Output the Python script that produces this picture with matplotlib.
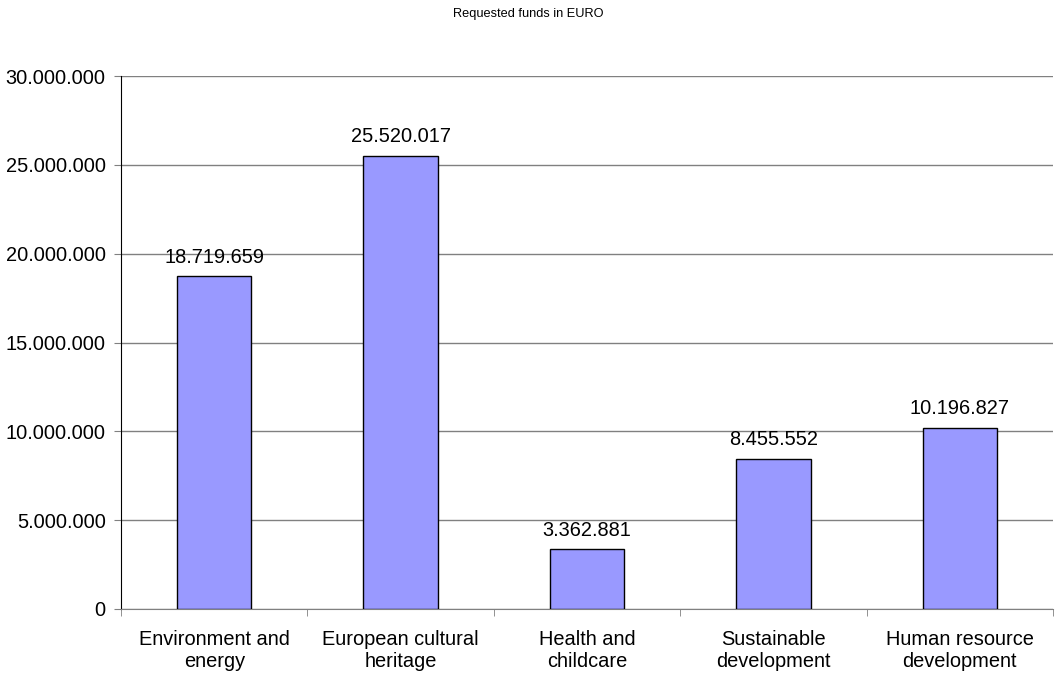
import matplotlib
matplotlib.use("Agg")
import matplotlib.pyplot as plt
from matplotlib.ticker import FuncFormatter, FixedLocator

categories = ["Environment and\nenergy", "European cultural\nheritage", "Health and\nchildcare",
              "Sustainable\ndevelopment", "Human resource\ndevelopment"]
values = [18719659, 25520017, 3362881, 8455552, 10196827]
yticks = [0, 5000000, 10000000, 15000000, 20000000, 25000000, 30000000]

plt.rcParams['font.family'] = ['Liberation Sans', 'DejaVu Sans']

def fmt(v):
    return f"{int(round(v)):,}".replace(",", ".")

FS = 14.4

fig = plt.figure(figsize=(10.56, 6.75), dpi=100)
ax = fig.add_axes([121/1056, 1-609/675, (1053-121)/1056, (609-76)/675])

x = list(range(len(values)))
ax.bar(x, values, width=0.4, color="#9999FF", edgecolor="black", linewidth=1, zorder=3)
for xi, v in zip(x, values):
    ax.annotate(fmt(v), (xi, v), xytext=(0, 7), textcoords="offset points",
                ha="center", va="bottom", fontsize=FS, zorder=4)

ax.set_xlim(-0.5, len(values) - 0.5)
ax.set_ylim(0, 30000000)
ax.set_yticks(yticks)
ax.yaxis.set_major_formatter(FuncFormatter(lambda v, p: fmt(v)))
ax.yaxis.grid(True, color="#808080", linewidth=1, zorder=0)
ax.set_axisbelow(True)

ax.set_xticks(x)
ax.set_xticklabels(categories, fontsize=FS, linespacing=1.2)
ax.tick_params(axis="x", length=0, pad=15)
ax.xaxis.set_minor_locator(FixedLocator([i - 0.5 for i in range(len(values) + 1)]))
ax.tick_params(axis="x", which="minor", length=5, color="#808080")
ax.tick_params(axis="y", length=5, color="#808080", labelsize=FS, pad=6)

for s in ["top", "right"]:
    ax.spines[s].set_visible(False)
ax.spines["left"].set_color("black")
ax.spines["bottom"].set_color("#808080")

fig.text(0.5, 1-14/675, "Requested funds in EURO", ha="center", va="center", fontsize=9.2)

fig.savefig("out.png", dpi=100)
